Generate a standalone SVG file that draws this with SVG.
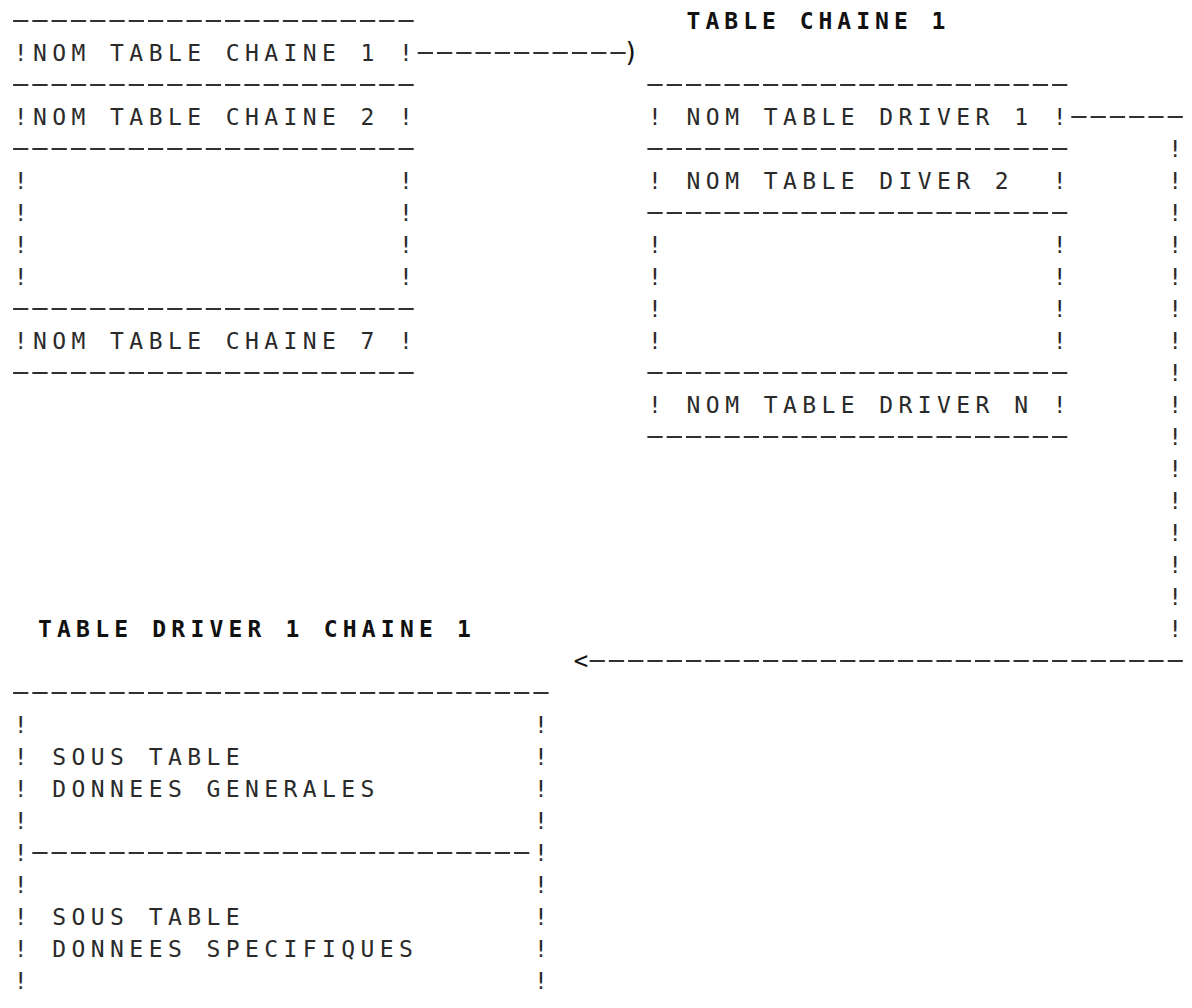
<svg xmlns="http://www.w3.org/2000/svg" width="1192" height="1008" viewBox="0 0 1192 1008" xml:space="preserve">
<style>
  text { font-family: "DejaVu Sans Mono", "Liberation Mono", monospace; font-size: 23px; fill: #2a2a2a; letter-spacing: 5.42px; white-space: pre; }
  .title { font-weight: bold; fill: #111111; }
  .dash { stroke: #303030; stroke-width: 1.9; stroke-dasharray: 15.27 4; fill: none; }
  .arrow { font-size: 26px; letter-spacing: 0; fill: #111111; }
</style>
<rect width="1192" height="1008" fill="#ffffff"/>

<!-- Left: list of chain tables -->
<g id="table-chaines">
  <line class="dash" x1="13.07" y1="21" x2="413.7" y2="21"/>
  <text x="13.77" y="61.4">!NOM TABLE CHAINE 1 !</text>
  <line class="dash" x1="13.07" y1="85" x2="413.7" y2="85"/>
  <text x="13.77" y="125.4">!NOM TABLE CHAINE 2 !</text>
  <line class="dash" x1="13.07" y1="149" x2="413.7" y2="149"/>
  <text x="13.77" y="189.4">!                   !</text>
  <text x="13.77" y="221.4">!                   !</text>
  <text x="13.77" y="253.4">!                   !</text>
  <text x="13.77" y="285.4">!                   !</text>
  <line class="dash" x1="13.07" y1="309" x2="413.7" y2="309"/>
  <text x="13.77" y="349.4">!NOM TABLE CHAINE 7 !</text>
  <line class="dash" x1="13.07" y1="373" x2="413.7" y2="373"/>
</g>

<!-- Right: TABLE CHAINE 1 -->
<g id="table-chaine-1">
  <text class="title" x="686.6" y="29.4" style="letter-spacing:5px">TABLE CHAINE 1</text>
  <line class="dash" x1="647.4" y1="85" x2="1067.3" y2="85"/>
  <text x="648.07" y="125.4">! NOM TABLE DRIVER 1 !</text>
  <line class="dash" x1="647.4" y1="149" x2="1067.3" y2="149"/>
  <text x="648.07" y="189.4">! NOM TABLE DIVER 2  !</text>
  <line class="dash" x1="647.4" y1="213" x2="1067.3" y2="213"/>
  <text x="648.07" y="253.4">!                    !</text>
  <text x="648.07" y="285.4">!                    !</text>
  <text x="648.07" y="317.4">!                    !</text>
  <text x="648.07" y="349.4">!                    !</text>
  <line class="dash" x1="647.4" y1="373" x2="1067.3" y2="373"/>
  <text x="648.07" y="413.4">! NOM TABLE DRIVER N !</text>
  <line class="dash" x1="647.4" y1="437" x2="1067.3" y2="437"/>
</g>

<!-- Bottom: TABLE DRIVER 1 CHAINE 1 -->
<g id="table-driver-1-chaine-1">
  <text class="title" x="38" y="637.4" style="letter-spacing:5.2px">TABLE DRIVER 1 CHAINE 1</text>
  <line class="dash" x1="13.07" y1="693" x2="548.6" y2="693"/>
  <text x="13.77" y="733.4">!                          !</text>
  <text x="13.77" y="765.4">! SOUS TABLE               !</text>
  <text x="13.77" y="797.4">! DONNEES GENERALES        !</text>
  <text x="13.77" y="829.4">!                          !</text>
  <text x="13.77" y="861.4">!                          !</text>
  <line class="dash" x1="32.3" y1="853" x2="529.4" y2="853"/>
  <text x="13.77" y="893.4">!                          !</text>
  <text x="13.77" y="925.4">! SOUS TABLE               !</text>
  <text x="13.77" y="957.4">! DONNEES SPECIFIQUES      !</text>
  <text x="13.77" y="989.4">!                          !</text>
</g>

<!-- Connectors -->
<g id="connectors">
  <line class="dash" x1="417.7" y1="53" x2="625.7" y2="53"/>
  <text class="arrow" x="631" y="61" text-anchor="middle">)</text>

  <line class="dash" x1="1071.3" y1="117" x2="1182.9" y2="117"/>
  <text x="1175.3" y="157.4" text-anchor="middle" style="letter-spacing:0"><tspan x="1175.3" y="157.4">!</tspan><tspan x="1175.3" y="189.4">!</tspan><tspan x="1175.3" y="221.4">!</tspan><tspan x="1175.3" y="253.4">!</tspan><tspan x="1175.3" y="285.4">!</tspan><tspan x="1175.3" y="317.4">!</tspan><tspan x="1175.3" y="349.4">!</tspan><tspan x="1175.3" y="381.4">!</tspan><tspan x="1175.3" y="413.4">!</tspan><tspan x="1175.3" y="445.4">!</tspan><tspan x="1175.3" y="477.4">!</tspan><tspan x="1175.3" y="509.4">!</tspan><tspan x="1175.3" y="541.4">!</tspan><tspan x="1175.3" y="573.4">!</tspan><tspan x="1175.3" y="605.4">!</tspan><tspan x="1175.3" y="637.4">!</tspan></text>
  <line class="dash" x1="589.6" y1="661" x2="1182.9" y2="661"/>
  <text class="arrow" x="581" y="669" text-anchor="middle" style="font-size:24px">&lt;</text>
</g>
</svg>
